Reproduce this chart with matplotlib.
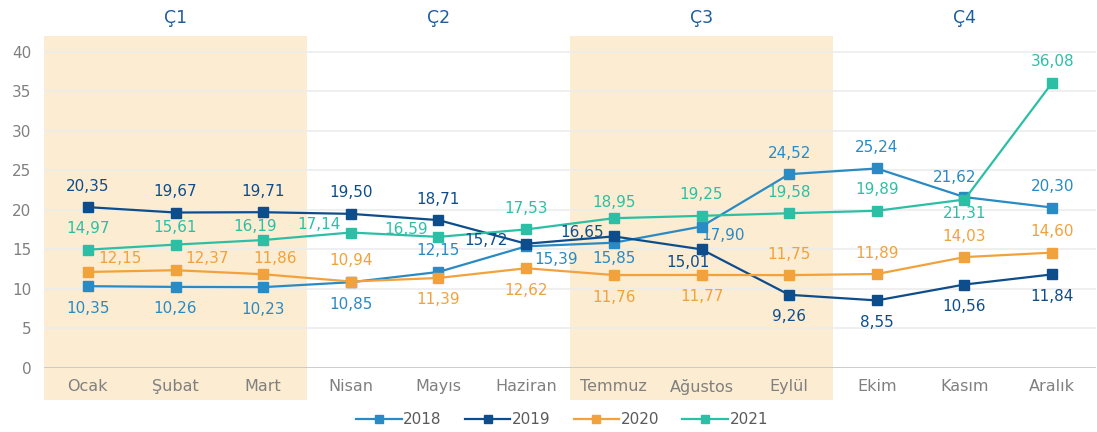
import matplotlib.pyplot as plt
from matplotlib.transforms import blended_transform_factory

plt.rcParams['font.family'] = ['DejaVu Sans']

months = ["Ocak", "Şubat", "Mart", "Nisan", "Mayıs", "Haziran",
          "Temmuz", "Ağustos", "Eylül", "Ekim", "Kasım", "Aralık"]
quarters = ["Ç1", "Ç2", "Ç3", "Ç4"]
years = ["2018", "2019", "2020", "2021"]

v2018 = [10.35, 10.26, 10.23, 10.85, 12.15, 15.39, 15.85, 17.90, 24.52, 25.24, 21.62, 20.30]
v2019 = [20.35, 19.67, 19.71, 19.50, 18.71, 15.72, 16.65, 15.01, 9.26, 8.55, 10.56, 11.84]
v2020 = [12.15, 12.37, 11.86, 10.94, 11.39, 12.62, 11.76, 11.77, 11.75, 11.89, 14.03, 14.60]
v2021 = [14.97, 15.61, 16.19, 17.14, 16.59, 17.53, 18.95, 19.25, 19.58, 19.89, 21.31, 36.08]

colors = ["#2a8ac4", "#0e4d8c", "#f2a23c", "#2dbfa6"]

# label offsets in pixels (dx, dy) per point
up, dn = (0, 21), (0, -22)
off2018 = [dn, dn, dn, dn, up, (30, -13), (0, -16), (22, -9), up, up, (-10, 20), up]
off2019 = [up, up, up, up, up, (-40, 3), (-32, 4), (-14, -13), dn, dn, dn, dn]
off2020 = [(32, 13), (32, 12), (12, 16), up, dn, dn, dn, dn, up, up, up, up]
off2021 = [up, (0, 17), (-8, 14), (-32, 8), (-32, 7), up, (0, 16), up, up, up, (0, -14), up]

series = [v2018, v2019, v2020, v2021]
offsets = [off2018, off2019, off2020, off2021]

fig = plt.figure(figsize=(10.97, 4.32), dpi=100)
ax = fig.add_axes([44 / 1097, 1 - 368 / 432, 1052 / 1097, 332 / 432])
x = list(range(len(months)))

# shaded quarters (Q1, Q3)
for q in (0, 2):
    ax.axvspan(3 * q - 0.5, 3 * q + 2.5, ymin=-32 / 332, ymax=1,
               color="#fcecd1", lw=0, zorder=0, clip_on=False)

for y in range(5, 45, 5):
    ax.axhline(y, color="#ececec", lw=1.2, zorder=1)
ax.axhline(0, color="#c8c8c8", lw=2, zorder=1)

for vals, offs, c, yr in zip(series, offsets, colors, years):
    ax.plot(x, vals, color=c, lw=1.6, marker="s", markersize=7, label=yr, zorder=3)
    for xi, v, (dx, dy) in zip(x, vals, offs):
        ax.annotate(f"{v:.2f}".replace(".", ","), (xi, v), xytext=(dx, dy),
                    textcoords="offset pixels", ha="center", va="center",
                    fontsize=11, color=c, zorder=4)

trans = blended_transform_factory(ax.transData, fig.transFigure)
for i, q in enumerate(quarters):
    ax.text(3 * i + 1, 1 - 18 / 432, q, transform=trans, ha="center", va="center",
            fontsize=12.5, color="#1d5d9e")

ax.set_xlim(-0.5, 11.5)
ax.set_ylim(0, 42)
ax.set_yticks(range(0, 45, 5))
ax.set_xticks(x)
ax.set_xticklabels(months)
ax.tick_params(axis="both", length=0, labelsize=11, labelcolor="#808080")
ax.tick_params(axis="x", pad=8, labelsize=11.5)
ax.tick_params(axis="y", pad=9)
for s in ax.spines.values():
    s.set_visible(False)

fig.legend(loc="center", bbox_to_anchor=(562 / 1097, 1 - 420 / 432), ncol=4,
           frameon=False, fontsize=11, handlelength=3.0, columnspacing=1.5,
           handletextpad=0.1, markerscale=0.75, labelcolor="#5a5a5a")

fig.savefig("out.png", dpi=100)
